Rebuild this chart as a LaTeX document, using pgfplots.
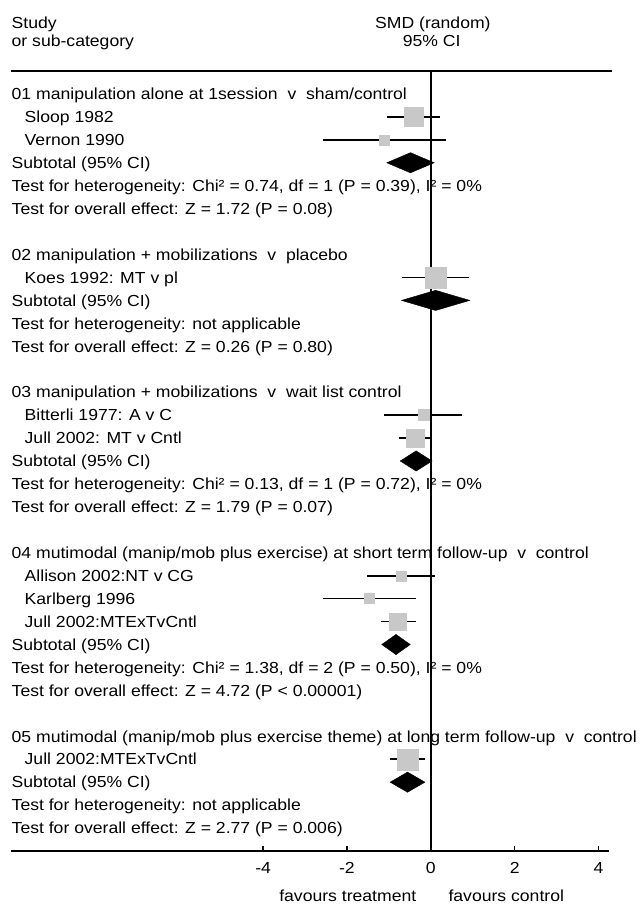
\documentclass[border=0pt]{standalone}
\usepackage{fontspec}
\setmainfont{Liberation Sans}[FakeStretch=1.10]
\usepackage{pgfplots}
\usepackage{pgfplotstable}
\pgfplotsset{compat=1.18}
\definecolor{sq}{RGB}{200,200,200}

% r = row, m = SMD, lo/hi = 95% CI, s = half side of square (pt)
\pgfplotstableread{
r m lo hi s
1 -0.40 -1.05 0.21 9.5
2 -1.10 -2.57 0.37 5
8 0.11 -0.69 0.91 10.5
14 -0.18 -1.11 0.74 5.5
15 -0.38 -0.76 0.00 9
21 -0.70 -1.51 0.10 5
22 -1.46 -2.57 -0.36 5
23 -0.78 -1.19 -0.36 8.5
29 -0.555 -0.97 -0.14 10.5
}\studies

\begin{document}
\begin{tikzpicture}[every node/.style={font=\fontsize{16}{19}\selectfont},
  lab/.style={anchor=west, inner sep=0pt, text height=11.5pt, text depth=0pt}]
\path[use as bounding box] (0,0) rectangle (641pt,905pt);
\begin{axis}[
  at={(11.5pt,54pt)}, anchor=south west,
  scale only axis, width=597.5pt, height=780pt,
  xmin=-10, xmax=4.25, ymin=-33, ymax=1,
  axis x line*=bottom, axis y line=none,
  xtick={-4,-2,0,2,4}, xticklabels={-4,-2,0,2,4},
  ytick=\empty,
  xtick align=inside, major tick length=5pt,
  every tick/.style={black, line width=1.2pt},
  x axis line style={line width=1.6pt},
  xticklabel style={inner sep=0pt, text height=11.5pt, text depth=0pt, yshift=-10.3pt, anchor=north},
  clip=false,
  ci/.style={black, line width=1.7pt, mark=none, forget plot},
]
% header
\node[lab] at (axis cs:-10,3.1) {Study};
\node[lab] at (axis cs:-10,2.3) {or sub-category};
\node[lab, anchor=center] at (axis cs:0.05,3.1) {SMD (random)};
\node[lab, anchor=center] at (axis cs:0.02,2.3) {95\% CI};
% group 01
\node[lab] at (axis cs:-10,0) {01 manipulation alone at 1session\ \ v\ \ sham/control};
\node[lab] at (axis cs:-9.69,-1) {Sloop 1982};
\node[lab] at (axis cs:-9.69,-2) {Vernon 1990};
\node[lab] at (axis cs:-10,-3) {Subtotal (95\% CI)};
\node[lab] at (axis cs:-10,-4) {Test for heterogeneity: Chi² = 0.74, df = 1 (P = 0.39), I² = 0\%};
\node[lab] at (axis cs:-10,-5) {Test for overall effect: Z = 1.72 (P = 0.08)};
% group 02
\node[lab] at (axis cs:-10,-7) {02 manipulation + mobilizations\ \ v\ \ placebo};
\node[lab] at (axis cs:-9.69,-8) {Koes 1992: MT v pl};
\node[lab] at (axis cs:-10,-9) {Subtotal (95\% CI)};
\node[lab] at (axis cs:-10,-10) {Test for heterogeneity: not applicable};
\node[lab] at (axis cs:-10,-11) {Test for overall effect: Z = 0.26 (P = 0.80)};
% group 03
\node[lab] at (axis cs:-10,-13) {03 manipulation + mobilizations\ \ v\ \ wait list control};
\node[lab] at (axis cs:-9.69,-14) {Bitterli 1977: A v C};
\node[lab] at (axis cs:-9.69,-15) {Jull 2002: MT v Cntl};
\node[lab] at (axis cs:-10,-16) {Subtotal (95\% CI)};
\node[lab] at (axis cs:-10,-17) {Test for heterogeneity: Chi² = 0.13, df = 1 (P = 0.72), I² = 0\%};
\node[lab] at (axis cs:-10,-18) {Test for overall effect: Z = 1.79 (P = 0.07)};
% group 04
\node[lab] at (axis cs:-10,-20) {04 mutimodal (manip/mob plus exercise) at short term follow-up\ \ v\ \ control};
\node[lab] at (axis cs:-9.69,-21) {Allison 2002:NT v CG};
\node[lab] at (axis cs:-9.69,-22) {Karlberg 1996};
\node[lab] at (axis cs:-9.69,-23) {Jull 2002:MTExTvCntl};
\node[lab] at (axis cs:-10,-24) {Subtotal (95\% CI)};
\node[lab] at (axis cs:-10,-25) {Test for heterogeneity: Chi² = 1.38, df = 2 (P = 0.50), I² = 0\%};
\node[lab] at (axis cs:-10,-26) {Test for overall effect: Z = 4.72 (P < 0.00001)};
% group 05
\node[lab] at (axis cs:-10,-28) {05 mutimodal (manip/mob plus exercise theme) at long term follow-up\ \ v\ \ control};
\node[lab] at (axis cs:-9.69,-29) {Jull 2002:MTExTvCntl};
\node[lab] at (axis cs:-10,-30) {Subtotal (95\% CI)};
\node[lab] at (axis cs:-10,-31) {Test for heterogeneity: not applicable};
\node[lab] at (axis cs:-10,-32) {Test for overall effect: Z = 2.77 (P = 0.006)};
% footer
\node[lab, anchor=center] at (axis cs:-1.98,-34.96) {favours treatment};
\node[lab, anchor=center] at (axis cs:1.80,-34.96) {favours control};

% squares
\addplot[scatter, only marks, mark=square*,
  scatter/use mapped color={draw=sq, fill=sq},
  visualization depends on={\thisrow{s}\as\msz},
  scatter/@pre marker code/.append style={/tikz/mark size=\msz pt}]
  table[x=m, y expr=-\thisrow{r}] {\studies};
% confidence intervals (lo, hi from the table above)
\addplot[ci] coordinates {(-1.05,-1) (0.21,-1)};
\addplot[ci] coordinates {(-2.57,-2) (0.37,-2)};
\addplot[ci] coordinates {(-0.69,-8) (0.91,-8)};
\addplot[ci] coordinates {(-1.11,-14) (0.74,-14)};
\addplot[ci] coordinates {(-0.76,-15) (0.00,-15)};
\addplot[ci] coordinates {(-1.51,-21) (0.10,-21)};
\addplot[ci] coordinates {(-2.57,-22) (-0.36,-22)};
\addplot[ci] coordinates {(-1.19,-23) (-0.36,-23)};
\addplot[ci] coordinates {(-0.97,-29) (-0.14,-29)};
% pooled diamonds
\addplot[fill=black, draw=black] coordinates {(-1.05,-3) (-0.485,-2.56) (0.08,-3) (-0.485,-3.44)} --cycle;
\addplot[fill=black, draw=black] coordinates {(-0.70,-9) (0.115,-8.56) (0.93,-9) (0.115,-9.44)} --cycle;
\addplot[fill=black, draw=black] coordinates {(-0.73,-16) (-0.35,-15.56) (0.03,-16) (-0.35,-16.44)} --cycle;
\addplot[fill=black, draw=black] coordinates {(-1.17,-24) (-0.83,-23.56) (-0.49,-24) (-0.83,-24.44)} --cycle;
\addplot[fill=black, draw=black] coordinates {(-0.97,-30) (-0.555,-29.56) (-0.14,-30) (-0.555,-30.44)} --cycle;
% rules
\draw[line width=1.6pt] (axis cs:-10,1) -- (axis cs:4.32,1);
\draw[line width=1.6pt] (axis cs:0,1) -- (axis cs:0,-33);
\end{axis}
\end{tikzpicture}
\end{document}
